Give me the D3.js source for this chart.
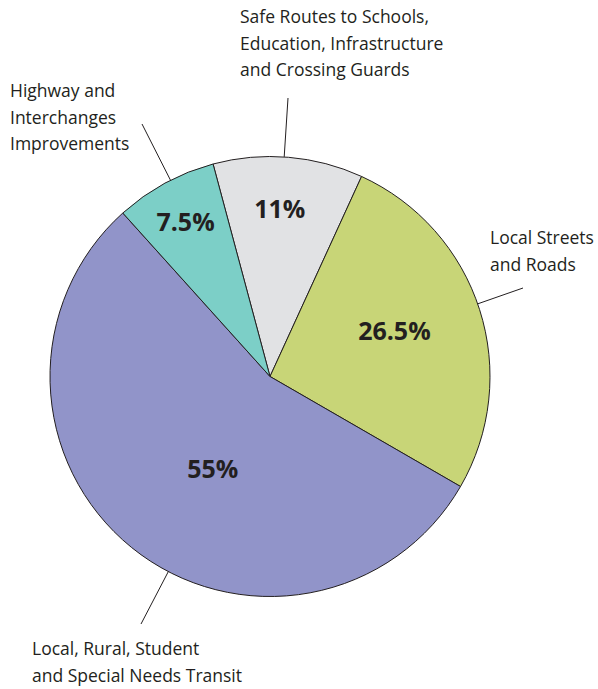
<!DOCTYPE html>
<html><head><meta charset="utf-8">
<script src="https://cdn.jsdelivr.net/npm/d3@7"></script>
<style>body{margin:0;background:#fff}svg{display:block}</style>
</head><body>
<svg id="chart" width="598" height="689"></svg>
<script>
const categories = [
  "Safe Routes to Schools, Education, Infrastructure and Crossing Guards",
  "Local Streets and Roads",
  "Local, Rural, Student and Special Needs Transit",
  "Highway and Interchanges Improvements"
];
const values = [11, 26.5, 55, 7.5];
const valueLabels = ["11%", "26.5%", "55%", "7.5%"];
const labelLines = [
  ["Safe Routes to Schools,", "Education, Infrastructure", "and Crossing Guards"],
  ["Local Streets", "and Roads"],
  ["Local, Rural, Student", "and Special Needs Transit"],
  ["Highway and", "Interchanges", "Improvements"]
];
const colors = ["#e1e2e4", "#c8d577", "#9194c9", "#7ccfc7"];

// layout (not data)
const cx = 270, cy = 376.5, R = 220;
const startDeg = -15;
const pctRadius = [169, 133, 108, 177];
const pctAngleShift = [-1.5, -3, -7, 0];
const textPos = [[240, 23], [490, 244], [32, 655], [10, 97]];
const leaderEnd = [[288, 98], [523, 288], [141, 624], [142, 124]];

const svg = d3.select("#chart");
const g = svg.append("g").attr("transform", `translate(${cx},${cy})`);
const toRad = d => d * Math.PI / 180;

const pie = d3.pie().sort(null).value(d => d)
  .startAngle(toRad(startDeg)).endAngle(toRad(startDeg + 360));
const arcs = pie(values);
const arc = d3.arc().innerRadius(0).outerRadius(R);

g.selectAll("path.slice").data(arcs).join("path")
  .attr("class", "slice")
  .attr("d", arc)
  .attr("fill", (d, i) => colors[i])
  .attr("stroke", "#231f20")
  .attr("stroke-width", 1);

// percentage labels
g.selectAll("text.pct").data(arcs).join("text")
  .attr("class", "pct")
  .attr("x", (d, i) => {
    const a = (d.startAngle + d.endAngle) / 2 + toRad(pctAngleShift[i]);
    return Math.sin(a) * pctRadius[i];
  })
  .attr("y", (d, i) => {
    const a = (d.startAngle + d.endAngle) / 2 + toRad(pctAngleShift[i]);
    return -Math.cos(a) * pctRadius[i];
  })
  .attr("text-anchor", "middle")
  .attr("dominant-baseline", "central")
  .attr("font-family", "'Open Sans', 'Noto Sans', sans-serif")
  .attr("font-weight", "bold")
  .attr("font-size", 25)
  .attr("fill", "#231f20")
  .text((d, i) => valueLabels[i]);

// leader lines: from a point on the rim toward the label
arcs.forEach((d, i) => {
  const [ex, ey] = leaderEnd[i];
  const ang = Math.atan2(ex - cx, -(ey - cy));
  const sx = cx + Math.sin(ang) * R, sy = cy - Math.cos(ang) * R;
  svg.append("line")
    .attr("x1", sx).attr("y1", sy).attr("x2", ex).attr("y2", ey)
    .attr("stroke", "#231f20").attr("stroke-width", 1);
});

// category labels
labelLines.forEach((lines, i) => {
  const t = svg.append("text")
    .attr("font-family", "'Open Sans', 'Noto Sans', sans-serif")
    .attr("font-size", 17.5)
    .attr("fill", "#231f20");
  lines.forEach((ln, j) => {
    t.append("tspan").attr("x", textPos[i][0]).attr("y", textPos[i][1] + j * 26.5).text(ln);
  });
});
</script>
</body></html>
